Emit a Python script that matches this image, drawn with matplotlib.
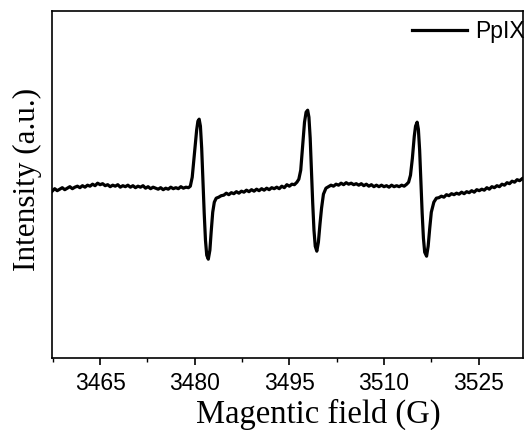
import matplotlib
matplotlib.use("Agg")
import matplotlib.pyplot as plt
import numpy as np
from matplotlib.ticker import MultipleLocator

# EPR spectrum of PpIX (field in G, intensity in a.u.)
# baseline before the first line
field_a = [3457.4, 3457.8, 3458.2, 3458.6, 3459.0, 3459.4, 3459.8, 3460.2, 3460.6, 3461.0,
           3461.4, 3461.8, 3462.2, 3462.6, 3463.0, 3463.4, 3463.8, 3464.2, 3464.6, 3465.0,
           3465.4, 3465.8, 3466.2, 3466.6, 3467.0, 3467.4, 3467.8, 3468.2, 3468.6, 3469.0,
           3469.4, 3469.8, 3470.2, 3470.6, 3471.0, 3471.4, 3471.8, 3472.2, 3472.6, 3473.0,
           3473.4, 3473.8, 3474.2, 3474.6, 3475.0, 3475.4, 3475.8, 3476.2, 3476.6, 3477.0,
           3477.4, 3477.8, 3478.2, 3478.6, 3479.0]
int_a = [167.0, 169.5, 167.5, 169.0, 170.5, 168.5, 170.0, 171.5, 169.5, 171.0,
         172.0, 170.5, 172.5, 171.0, 173.0, 172.0, 174.0, 172.5, 175.0, 173.5,
         174.5, 172.5, 173.5, 171.5, 173.0, 172.0, 173.5, 171.0, 172.5, 171.5,
         173.0, 171.0, 172.5, 170.5, 172.0, 171.0, 172.5, 170.0, 171.5, 169.5,
         171.0, 170.0, 169.0, 170.5, 168.5, 170.0, 169.0, 171.0, 169.5, 170.5,
         169.5, 171.5, 170.0, 171.0, 170.5]

# first line
field_l1 = [3479.3, 3479.6, 3480.0, 3480.3, 3480.5, 3480.7, 3480.9, 3481.1, 3481.3, 3481.5,
            3481.7, 3481.9, 3482.15, 3482.4, 3482.6, 3482.85, 3483.1, 3483.4]
int_l1 = [172, 181, 208, 228, 237, 239, 232, 210, 178, 145,
          118, 103, 99, 108, 126, 146, 156, 160]

field_b = [3483.8, 3484.2, 3484.6, 3485.0, 3485.4, 3485.8, 3486.2, 3486.6, 3487.0, 3487.4,
           3487.8, 3488.2, 3488.6, 3489.0, 3489.4, 3489.8, 3490.2, 3490.6, 3491.0, 3491.4,
           3491.8, 3492.2, 3492.6, 3493.0, 3493.4, 3493.8, 3494.2, 3494.6, 3495.0, 3495.4,
           3495.8, 3496.2]
int_b = [161.0, 162.5, 163.0, 165.0, 163.5, 165.5, 164.5, 166.5, 165.0, 167.0,
         166.0, 168.0, 166.5, 168.5, 167.0, 169.0, 167.5, 169.5, 168.0, 170.0,
         168.5, 170.5, 169.5, 171.0, 169.5, 172.0, 170.5, 173.5, 172.0, 174.0,
         173.5, 176.0]

# second line
field_l2 = [3496.5, 3496.8, 3497.1, 3497.4, 3497.65, 3497.9, 3498.1, 3498.3, 3498.5, 3498.7,
            3498.9, 3499.1, 3499.35, 3499.6, 3499.85, 3500.1, 3500.4, 3500.8]
int_l2 = [179, 188, 212, 236, 246, 248, 241, 220, 188, 155,
          128, 112, 107, 116, 134, 150, 164, 170]

field_c = [3501.2, 3501.6, 3502.0, 3502.4, 3502.8, 3503.2, 3503.6, 3504.0, 3504.4, 3504.8,
           3505.2, 3505.6, 3506.0, 3506.4, 3506.8, 3507.2, 3507.6, 3508.0, 3508.4, 3508.8,
           3509.2, 3509.6, 3510.0, 3510.4, 3510.8, 3511.2, 3511.6, 3512.0, 3512.4, 3512.8,
           3513.2, 3513.6]
int_c = [171.5, 173.0, 172.0, 174.0, 173.0, 175.0, 173.5, 175.5, 174.0, 175.0,
         173.5, 174.5, 173.0, 174.5, 172.5, 174.0, 172.0, 173.5, 171.5, 173.0,
         171.5, 173.0, 171.5, 172.5, 171.0, 173.0, 171.5, 172.5, 171.5, 173.0,
         172.0, 174.0]

# third line
field_l3 = [3513.9, 3514.2, 3514.5, 3514.8, 3515.0, 3515.25, 3515.45, 3515.65, 3515.85, 3516.05,
            3516.25, 3516.45, 3516.75, 3517.0, 3517.25, 3517.5, 3517.9, 3518.3]
int_l3 = [176, 183, 200, 222, 232, 236, 229, 208, 176, 145,
          120, 106, 102, 112, 130, 146, 156, 160]

field_d = [3518.7, 3519.1, 3519.5, 3519.9, 3520.3, 3520.7, 3521.1, 3521.5, 3521.9, 3522.3,
           3522.7, 3523.1, 3523.5, 3523.9, 3524.3, 3524.7, 3525.1, 3525.5, 3525.9, 3526.3,
           3526.7, 3527.1, 3527.5, 3527.9, 3528.3, 3528.7, 3529.1, 3529.5, 3529.9, 3530.3,
           3530.7, 3531.1, 3531.5, 3531.9]
int_d = [160.5, 162.0, 161.0, 163.5, 162.5, 164.5, 163.5, 165.0, 164.0, 166.0,
         164.5, 166.5, 165.5, 167.5, 166.0, 168.5, 167.5, 169.0, 168.0, 170.5,
         169.0, 171.5, 170.5, 172.5, 171.5, 174.0, 173.0, 175.5, 174.5, 177.0,
         176.0, 178.5, 177.5, 179.5]

xticks = [3465, 3480, 3495, 3510, 3525]

field = np.array(field_a + field_l1 + field_b + field_l2 + field_c + field_l3 + field_d)
intensity = np.array(int_a + int_l1 + int_b + int_l2 + int_c + int_l3 + int_d)

fig = plt.figure(figsize=(5.27, 4.3), dpi=100)
ax = fig.add_axes([0.099, 0.167, 0.893, 0.807])

ax.plot(field, intensity, color='black', lw=2.3, label='PpIX')

ax.set_xlim(3457.4, 3532.0)
ax.set_ylim(0, 347)
ax.set_xticks(xticks)
ax.xaxis.set_minor_locator(MultipleLocator(7.5))
ax.set_yticks([])
ax.tick_params(axis='x', which='major', direction='out', length=5, width=1.2,
               labelsize=16.5, pad=5)
ax.tick_params(axis='x', which='minor', direction='out', length=3, width=1.0)
for lab in ax.get_xticklabels():
    lab.set_family('Liberation Sans')
for s in ax.spines.values():
    s.set_linewidth(1.2)

ax.set_xlabel('Magentic field (G)', family='Liberation Serif', fontsize=23.5)
ax.xaxis.set_label_coords(0.565, -0.118)
ax.set_ylabel('Intensity (a.u.)', family='Liberation Serif', fontsize=22.5)
ax.yaxis.set_label_coords(-0.022, 0.515)

leg = ax.legend(loc='upper right', bbox_to_anchor=(1.005, 0.975), frameon=False,
                prop={'family': 'Liberation Sans', 'size': 16.5},
                handlelength=2.4, handletextpad=0.35, borderaxespad=0, borderpad=0)

fig.savefig('out.png', dpi=100)
